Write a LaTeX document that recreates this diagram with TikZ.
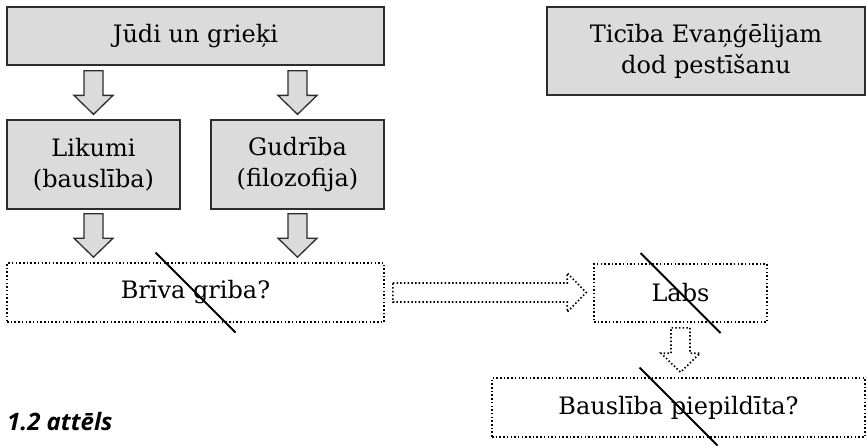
\documentclass[tikz,border=0pt]{standalone}
\usepackage{fontspec}
\setmainfont{DejaVu Serif}
\newfontfamily\capfont{Open Sans}
\usetikzlibrary{calc}
\definecolor{boxgray}{RGB}{219,219,219}
\definecolor{edgegray}{RGB}{45,45,45}
\newcommand{\fatarrow}[3][]{%
  \draw[#1] let \p1=(#2), \p2=(#3), \n1={atan2(\y2-\y1,\x2-\x1)}, \n2={veclen(\x2-\x1,\y2-\y1)} in
    [shift={(\p1)}, rotate=\n1] (0,-9.5) -- ({\n2-19},-9.5) -- ({\n2-19},-19.5) -- (\n2,0)
    -- ({\n2-19},19.5) -- ({\n2-19},9.5) -- (0,9.5) -- cycle;}
\begin{document}
\begin{tikzpicture}[x=1pt, y=-1pt, font=\fontsize{24}{31}\selectfont,
    grayblock/.style={draw=edgegray, fill=boxgray, line width=1.3pt, inner sep=0pt, align=center},
    dotblock/.style={draw=black, line width=1.6pt, dash pattern=on 1.5pt off 2.2pt, inner sep=0pt, align=center},
    grayarrow/.style={draw=edgegray, fill=boxgray, line width=1.3pt, line join=miter},
    dotarrow/.style={draw=black, line width=1.6pt, dash pattern=on 1.5pt off 2.2pt},
    strike/.style={draw=black, line width=2pt}]
  \useasboundingbox (0,0) rectangle (867,445);
  \node[grayblock, minimum width=377pt, minimum height=58pt] (judi) at (195.5,36) {Jūdi un grieķi};
  \node[grayblock, minimum width=318pt, minimum height=88pt] (ticiba) at (706,51) {Ticība Evaņģēlijam\\dod pestīšanu};
  \node[grayblock, minimum width=173pt, minimum height=89pt] (likumi) at (93.5,164.5) {Likumi\\(bauslība)};
  \node[grayblock, minimum width=173pt, minimum height=89pt] (gudriba) at (297.5,164.5) {Gudrība\\(filozofija)};
  \node[dotblock, minimum width=377pt, minimum height=59pt] (briva) at (195.5,292.5) {Brīva griba?};
  \node[dotblock, minimum width=173pt, minimum height=58pt] (labs) at (680.5,293) {Labs};
  \node[dotblock, minimum width=373pt, minimum height=59pt] (bausliba) at (678.5,407.5) {Bauslība piepildīta?};
  \node[anchor=base west, inner sep=0pt, font=\capfont\bfseries\itshape\fontsize{24}{28}\selectfont] (caption) at (7,430) {1.2 attēls};

  \coordinate (a1) at ($(judi.south -| likumi.north)+(0,5)$);
  \coordinate (b1) at ($(likumi.north)+(0,-5)$);
  \coordinate (a2) at ($(judi.south -| gudriba.north)+(0,5)$);
  \coordinate (b2) at ($(gudriba.north)+(0,-5)$);
  \coordinate (a3) at ($(likumi.south)+(0,4)$);
  \coordinate (b3) at ($(briva.north -| likumi.south)+(0,-5)$);
  \coordinate (a4) at ($(gudriba.south)+(0,4)$);
  \coordinate (b4) at ($(briva.north -| gudriba.south)+(0,-5)$);
  \coordinate (a5) at ($(briva.east)+(8,0)$);
  \coordinate (b5) at ($(briva.east -| labs.west)+(-7,0)$);
  \coordinate (a6) at ($(labs.south)+(0,5)$);
  \coordinate (b6) at ($(bausliba.north -| labs.south)+(0,-5)$);

  \fatarrow[grayarrow]{a1}{b1}
  \fatarrow[grayarrow]{a2}{b2}
  \fatarrow[grayarrow]{a3}{b3}
  \fatarrow[grayarrow]{a4}{b4}
  \fatarrow[dotarrow]{a5}{b5}
  \fatarrow[dotarrow]{a6}{b6}

  \draw[strike] ($(briva.center)+(-40,-40)$) -- ($(briva.center)+(40,40)$);
  \draw[strike] ($(labs.center)+(-40,-40)$) -- ($(labs.center)+(40,40)$);
  \draw[strike] ($(bausliba.center)+(-39,-40)$) -- ($(bausliba.center)+(39,38)$);
\end{tikzpicture}
\end{document}
